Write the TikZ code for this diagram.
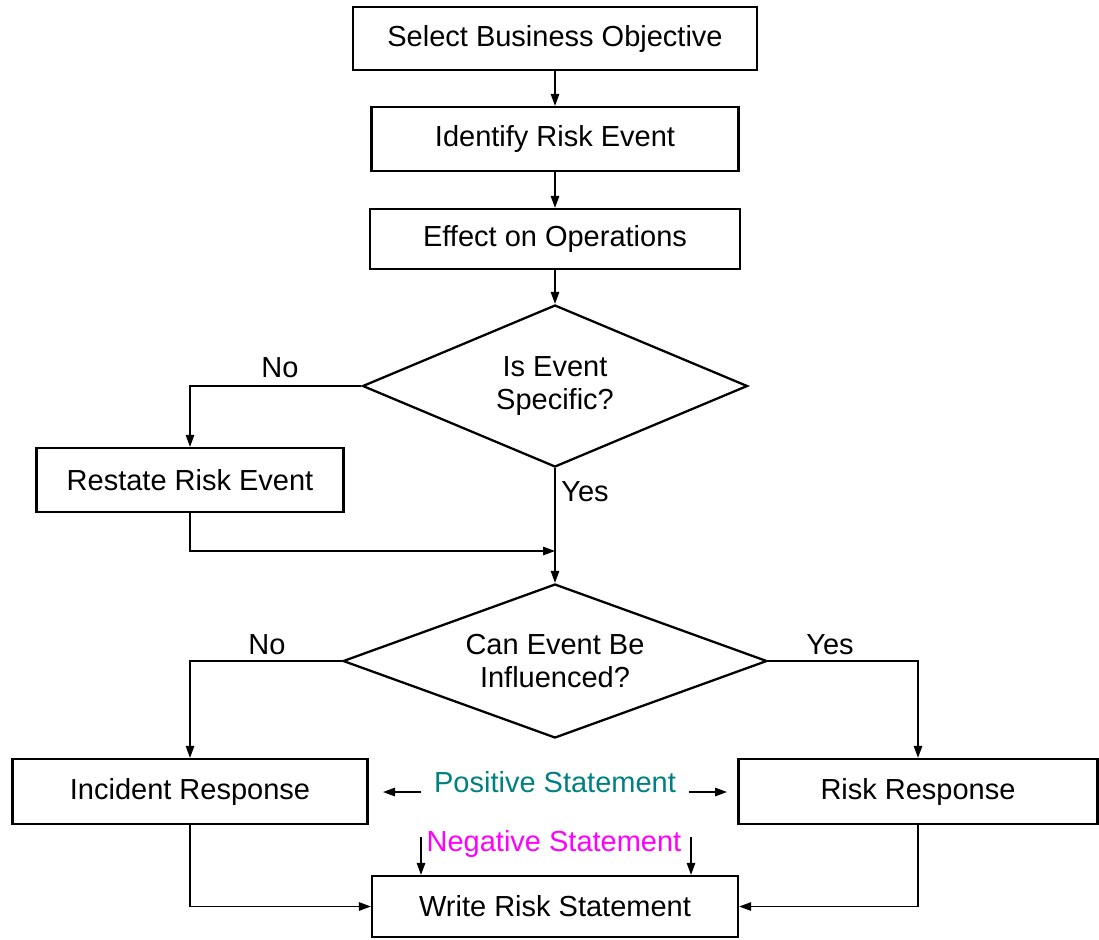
\documentclass[tikz,border=0pt]{standalone}
\usepackage{fontspec}
\setmainfont{Liberation Sans}
\usetikzlibrary{shapes.geometric, arrows.meta}

\definecolor{posteal}{RGB}{0,128,128}
\definecolor{negpink}{RGB}{255,0,255}

\begin{document}
\begin{tikzpicture}[
        every node/.style={font=\fontsize{16.5}{19}\selectfont},
        stepbox/.style={draw, line width=1.3pt, rectangle, inner sep=0pt},
        askbox/.style={draw, line width=1.3pt, diamond, inner sep=0pt, align=center},
        flow/.style={line width=0.8pt, -{Triangle[length=0.24cm, width=0.17cm]}}
    ]
        \useasboundingbox (0, 0) rectangle (21.98, -18.78);

        \node [stepbox, minimum width=8.08cm, minimum height=1.26cm] (S1) at (11.10, -0.77) {Select Business Objective};
        \node [stepbox, minimum width=7.34cm, minimum height=1.28cm] (S2) at (11.10, -2.78) {Identify Risk Event};
        \node [stepbox, minimum width=7.40cm, minimum height=1.20cm] (S3) at (11.10, -4.78) {Effect on Operations};
        \node [askbox, aspect=2.38, minimum width=7.70cm, minimum height=3.24cm] (Q1) at (11.10, -7.72) {Is Event\\Specific?};
        \node [stepbox, minimum width=6.14cm, minimum height=1.28cm] (R1) at (3.80, -9.60) {Restate Risk Event};
        \node [askbox, aspect=2.75, minimum width=8.48cm, minimum height=3.08cm] (Q2) at (11.10, -13.22) {Can Event Be\\Influenced?};
        \node [stepbox, minimum width=7.10cm, minimum height=1.30cm] (R2) at (3.80, -15.83) {Incident Response};
        \node [stepbox, minimum width=7.18cm, minimum height=1.30cm] (R3) at (18.36, -15.83) {Risk Response};
        \node [stepbox, minimum width=7.32cm, minimum height=1.22cm] (W1) at (11.10, -18.13) {Write Risk Statement};

        \draw [flow] (S1) -- (S2);
        \draw [flow] (S2) -- (S3);
        \draw [flow] (S3) -- (Q1);

        \draw [flow] (Q1.west) -| (R1.north);
        \node (N1) at (5.60, -7.36) {No};

        \coordinate (M1) at (11.10, -11.02);
        \draw [flow] (R1.south) |- (M1);
        \draw [flow] (Q1.south) -- (Q2.north);
        \node (Y1) at (11.70, -9.84) {Yes};

        \draw [flow] (Q2.west) -| (R2.north);
        \node (N2) at (5.34, -12.90) {No};
        \draw [flow] (Q2.east) -| (R3.north);
        \node (Y2) at (16.60, -12.90) {Yes};

        \draw [flow] (R2.south) |- (W1.west);
        \draw [flow] (R3.south) |- (W1.east);

        % statements between the responses
        \node [text=posteal, anchor=base, inner xsep=0.25cm] (P1) at (11.10, -15.84) {Positive Statement};
        \coordinate (PL) at (7.66, -15.84);
        \coordinate (PR) at (14.54, -15.84);
        \draw [flow] (P1.base west) -- (PL);
        \draw [flow] (P1.base east) -- (PR);

        \node [text=negpink] (G1) at (11.08, -16.88) {Negative Statement};
        \coordinate (GL) at (8.42, -16.74);
        \coordinate (GR) at (13.82, -16.74);
        \draw [flow] (GL) -- (GL |- W1.north);
        \draw [flow] (GR) -- (GR |- W1.north);
    \end{tikzpicture}
\end{document}
